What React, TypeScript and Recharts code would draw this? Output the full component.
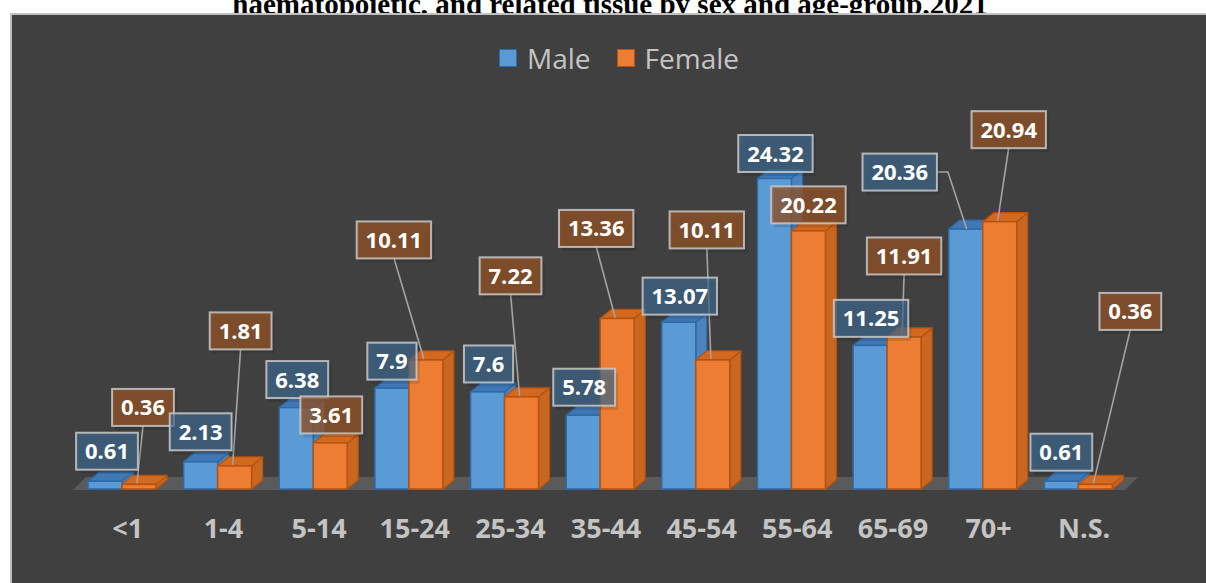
import React from 'react';
import { BarChart, Bar, XAxis, YAxis, Legend, LabelList, ReferenceArea } from 'recharts';

const categories = ['<1', '1-4', '5-14', '15-24', '25-34', '35-44', '45-54', '55-64', '65-69', '70+', 'N.S.'];
const maleValues = [0.61, 2.13, 6.38, 7.9, 7.6, 5.78, 13.07, 24.32, 11.25, 20.36, 0.61];
const femaleValues = [0.36, 1.81, 3.61, 10.11, 7.22, 13.36, 10.11, 20.22, 11.91, 20.94, 0.36];

// data-label placement (offset of box centre from the bar top centre), as Excel placed them
const maleLabelDx = [2, 0, 1, 0, 1, 1, 1, 1, 1, -66, 0];
const maleLabelDy = [-30, -30, -28, -27, -28, -28, -26, -25, -27, -57, -29];
const maleLeader = ['none', 'none', 'none', 'none', 'none', 'none', 'none', 'none', 'none', 'side', 'none'];
const femaleLabelDx = [4, 6, 1, -32, -11, -21, -6, 0, 0, 9, 35];
const femaleLabelDy = [-77, -135, -28, -120, -121, -90, -130, -26, -81, -92, -173];
const femaleLeader = ['bottom', 'bottom', 'none', 'bottom', 'bottom', 'bottom', 'bottom', 'none', 'bottom', 'bottom', 'bottom'];

const data = categories.map((c, i) => ({ name: c, male: maleValues[i], female: femaleValues[i] }));

const DEPTH_X = 11;
const DEPTH_Y = 9;

const makeBar3D = (front: string, top: string, side: string, stroke: string) => (props: any) => {
  const { x, y, width, height } = props;
  if (width == null || height == null) return null;
  const b = y + height;
  const r = x + width;
  return (
    <g>
      <polygon
        points={`${r},${y} ${r + DEPTH_X},${y - DEPTH_Y} ${r + DEPTH_X},${b - DEPTH_Y} ${r},${b}`}
        fill={side}
        stroke={stroke}
        strokeWidth={1.2}
        strokeLinejoin="round"
      />
      <polygon
        points={`${x},${y} ${x + DEPTH_X},${y - DEPTH_Y} ${r + DEPTH_X},${y - DEPTH_Y} ${r},${y}`}
        fill={top}
        stroke={stroke}
        strokeWidth={1.2}
        strokeLinejoin="round"
      />
      <rect x={x} y={y} width={width} height={height} fill={front} stroke={stroke} strokeWidth={1.5} />
    </g>
  );
};

const MaleBar = makeBar3D('#5b9bd5', '#3f78b5', '#4a83bd', '#2e6aa6');
const FemaleBar = makeBar3D('#ec7d32', '#d2691f', '#c9661f', '#b5520f');

const textW = (s: string) => {
  let w = 0;
  for (const ch of s) w += ch === '.' ? 6 : 12.6;
  return w;
};

const LabelBox = ({ cx, cy, text, kind }: { cx: number; cy: number; text: string; kind: 'm' | 'f' }) => {
  const w = textW(text) + 18;
  const h = 37;
  return (
    <g>
      <rect x={cx - w / 2 + 3} y={cy - h / 2 + 4} width={w} height={h} fill="#000" opacity={0.12} />
      <rect
        x={cx - w / 2}
        y={cy - h / 2}
        width={w}
        height={h}
        fill={kind === 'm' ? '#3f6a90' : '#8f5228'}
        fillOpacity={kind === 'm' ? 0.68 : 0.78}
        stroke="#c9c9c9"
        strokeOpacity={0.85}
        strokeWidth={2}
      />
      <text
        x={cx}
        y={cy + 8}
        textAnchor="middle"
        fill="#ffffff"
        fontFamily="'Open Sans', sans-serif"
        fontWeight={700}
        fontSize={22}
      >
        {text}
      </text>
    </g>
  );
};

const AllLabels = (props: any) => {
  const vb = props.viewBox || {};
  const x = props.x ?? vb.x;
  const y = props.y ?? vb.y;
  const width = props.width ?? vb.width;
  const height = props.height ?? vb.height;
  const index = props.index;
  if (x == null || index == null) return null;
  const fv = femaleValues[index];
  const base = y + height;
  const pxPerUnit = height / fv;
  const mv = maleValues[index];
  const mTop = base - mv * pxPerUnit;
  const mCx = x - width / 2;
  const fCx = x + width / 2;
  const fTop = y;

  const mBx = mCx + maleLabelDx[index];
  const mBy = mTop + maleLabelDy[index];
  const fBx = fCx + femaleLabelDx[index];
  const fBy = fTop + femaleLabelDy[index];
  const lineColor = '#a3a3a3';
  const mW = textW(String(mv)) + 18;

  return (
    <g>
      {maleLeader[index] === 'side' && (
        <polyline
          points={`${mBx + mW / 2},${mBy} ${mBx + mW / 2 + 11},${mBy} ${mCx + 1},${mTop}`}
          fill="none"
          stroke={lineColor}
          strokeWidth={1.6}
        />
      )}
      {femaleLeader[index] === 'bottom' && (
        <line x1={fBx} y1={fBy + 18} x2={fCx - 2} y2={fTop - 1} stroke={lineColor} strokeWidth={1.6} />
      )}
      <LabelBox cx={mBx} cy={mBy} text={String(mv)} kind="m" />
      <LabelBox cx={fBx} cy={fBy} text={String(fv)} kind="f" />
    </g>
  );
};

const Floor = (props: any) => {
  const { x, y, width, height } = props;
  if (x == null) return null;
  const b = y + height;
  return (
    <polygon
      points={`${x - 1},${b + 1} ${x + width - 1},${b + 1} ${x + width + 12},${b - 12} ${x + 12},${b - 12}`}
      fill="#5a5a5a"
    />
  );
};

const Tick = (props: any) => {
  const { x, y, payload } = props;
  return (
    <text
      x={x + 6}
      y={y + 41}
      textAnchor="middle"
      fill="#c4c4c4"
      fontFamily="'Open Sans', sans-serif"
      fontWeight={700}
      fontSize={27}
    >
      {payload.value}
    </text>
  );
};

const LegendContent = () => (
  <div
    style={{
      display: 'flex',
      alignItems: 'center',
      fontFamily: "'Open Sans', sans-serif",
      fontSize: 28,
      color: '#c4c4c4',
      lineHeight: '36px',
      height: 36,
    }}
  >
    <span style={{ display: 'inline-block', width: 16, height: 16, background: '#5b9bd5', border: '1px solid #2e6aa6', marginRight: 10 }} />
    <span style={{ marginRight: 26 }}>Male</span>
    <span style={{ display: 'inline-block', width: 16, height: 16, background: '#ec7d32', border: '1px solid #b5520f', marginRight: 10 }} />
    <span>Female</span>
  </div>
);

export default function App() {
  return (
    <div style={{ position: 'fixed', left: 0, top: 0, right: 0, bottom: 0, minWidth: 1206, minHeight: 583, overflow: 'hidden', background: '#fff' }}>
      <style>{'html,body{margin:0;padding:0;overflow:hidden;background:#404040;}'}</style>
      <div
        style={{
          position: 'absolute',
          left: 0,
          width: 1220,
          top: -10,
          textAlign: 'center',
          fontFamily: "'Liberation Serif', 'Times New Roman', serif",
          fontWeight: 700,
          fontSize: 29,
          lineHeight: '29px',
          color: '#000',
          whiteSpace: 'nowrap',
        }}
      >
        haematopoietic, and related tissue by sex and age-group,2021
      </div>
      <div
        style={{
          position: 'absolute',
          left: 10,
          top: 13,
          right: -20,
          bottom: -20,
          background: '#404040',
          borderTop: '2px solid #c0c0c0',
          borderLeft: '2px solid #c0c0c0',
        }}
      />
      <div style={{ position: 'absolute', left: 0, top: 0 }}>
        <BarChart
          width={1206}
          height={583}
          data={data}
          margin={{ top: 70, right: 80, bottom: 34, left: 74 }}
          barSize={34}
          barGap={0}
        >
          <XAxis dataKey="name" axisLine={false} tickLine={false} tick={<Tick />} height={60} interval={0} />
          <YAxis hide domain={[0, 30]} />
          <ReferenceArea y1={0} y2={1} shape={<Floor />} ifOverflow="visible" />
          <Legend
            verticalAlign="top"
            content={<LegendContent />}
            wrapperStyle={{ position: 'absolute', top: 40, left: 499, width: 300, height: 36 }}
          />
          <Bar dataKey="male" isAnimationActive={false} shape={<MaleBar />} />
          <Bar dataKey="female" isAnimationActive={false} shape={<FemaleBar />}>
            <LabelList dataKey="female" content={<AllLabels />} />
          </Bar>
        </BarChart>
      </div>
    </div>
  );
}
